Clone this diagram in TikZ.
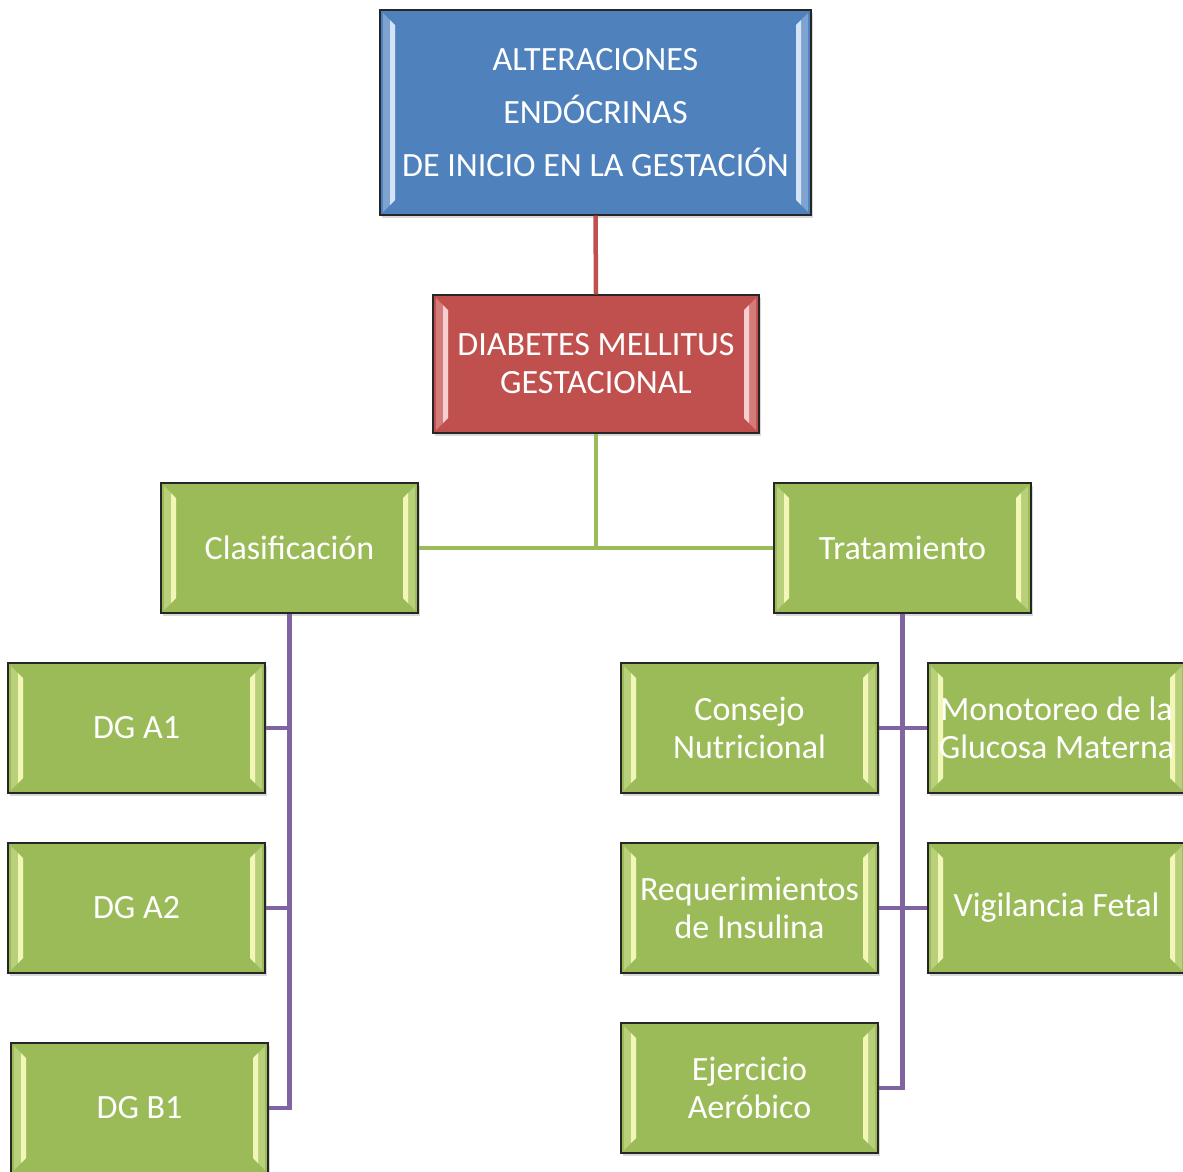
\documentclass[tikz,border=0pt]{standalone}
\usepackage{fontspec}
\setmainfont{Carlito}
\usetikzlibrary{positioning,shadows}

\definecolor{boxblue}{HTML}{4F81BD}
\definecolor{lightblue}{HTML}{D5E3F6}
\definecolor{boxred}{HTML}{C0504D}
\definecolor{lightred}{HTML}{F6CFCE}
\definecolor{boxgreen}{HTML}{9BBB59}
\definecolor{lightgreen}{HTML}{F2F7B8}
\definecolor{linepurple}{HTML}{8064A2}

\tikzset{
  bevel/.style 2 args={path picture={
    % left face
    \fill[#2!35!#1]
      ([xshift=3pt,yshift=-3pt]path picture bounding box.north west) -- ++(12pt,-12pt)
      -- ([xshift=15pt,yshift=15pt]path picture bounding box.south west) -- ++(-12pt,-12pt) -- cycle;
    \fill[#2]
      ([xshift=10pt,yshift=-10pt]path picture bounding box.north west) -- ++(5pt,-5pt)
      -- ([xshift=15pt,yshift=15pt]path picture bounding box.south west) -- ++(-5pt,-5pt) -- cycle;
    % right face
    \fill[#2!35!#1]
      ([xshift=-3pt,yshift=-3pt]path picture bounding box.north east) -- ++(-12pt,-12pt)
      -- ([xshift=-15pt,yshift=15pt]path picture bounding box.south east) -- ++(12pt,-12pt) -- cycle;
    \fill[#2]
      ([xshift=-10pt,yshift=-10pt]path picture bounding box.north east) -- ++(-5pt,-5pt)
      -- ([xshift=-15pt,yshift=15pt]path picture bounding box.south east) -- ++(5pt,-5pt) -- cycle;
  }},
  box/.style={draw=black!85, line width=1.3pt, align=center, text=white, inner sep=0pt,
    minimum width=257pt, minimum height=130pt,
    font=\fontsize{34}{38}\selectfont,
    drop shadow={opacity=0.3, shadow xshift=2pt, shadow yshift=-3pt}},
  bluebox/.style={box, fill=boxblue, bevel={boxblue}{lightblue}},
  redbox/.style={box, fill=boxred, bevel={boxred}{lightred}},
  greenbox/.style={box, fill=boxgreen, bevel={boxgreen}{lightgreen}},
  link/.style={line width=4.5pt, draw=#1}
}

\begin{document}
\begin{tikzpicture}[x=1pt,y=-1pt]
\useasboundingbox (0,0) rectangle (1183,1171);

% main boxes
\node[bluebox, minimum width=431pt, minimum height=205pt, font=\fontsize{34}{53}\selectfont] (alter) at (595.5,112.5) {ALTERACIONES\\ENDÓCRINAS\\DE INICIO EN LA GESTACIÓN};
\node[redbox, minimum width=326pt, minimum height=138pt] (dmg) at (596,364) {DIABETES MELLITUS\\GESTACIONAL};
\node[greenbox] (clasif) at (289.5,548) {Clasificación};
\node[greenbox] (trat) at (902.5,548) {Tratamiento};

% clasificacion
\node[greenbox] (dga1) at (136.5,728) {DG A1};
\node[greenbox] (dga2) at (136.5,908) {DG A2};
\node[greenbox] (dgb1) at (139.5,1108) {DG B1};

% tratamiento
\node[greenbox] (consejo) at (749.5,728) {Consejo\\Nutricional};
\node[greenbox] (monit) at (1056.5,728) {Monotoreo de la\\Glucosa Materna};
\node[greenbox] (insul) at (749.5,908) {Requerimientos\\de Insulina};
\node[greenbox] (vigil) at (1056.5,908) {Vigilancia Fetal};
\node[greenbox] (ejerc) at (749.5,1088) {Ejercicio\\Aeróbico};

% connectors
\draw[link=boxred] (alter.south) -- (dmg.north);
\draw[link=boxgreen] (dmg.south) |- (clasif.east);
\draw[link=boxgreen] (dmg.south) |- (trat.west);
\draw[link=linepurple] (clasif.south) |- (dga1.east);
\draw[link=linepurple] (clasif.south) |- (dga2.east);
\draw[link=linepurple] (clasif.south) |- (dgb1.east);
\draw[link=linepurple] (trat.south) |- (consejo.east);
\draw[link=linepurple] (trat.south) |- (monit.west);
\draw[link=linepurple] (trat.south) |- (insul.east);
\draw[link=linepurple] (trat.south) |- (vigil.west);
\draw[link=linepurple] (trat.south) |- (ejerc.east);
\end{tikzpicture}
\end{document}
